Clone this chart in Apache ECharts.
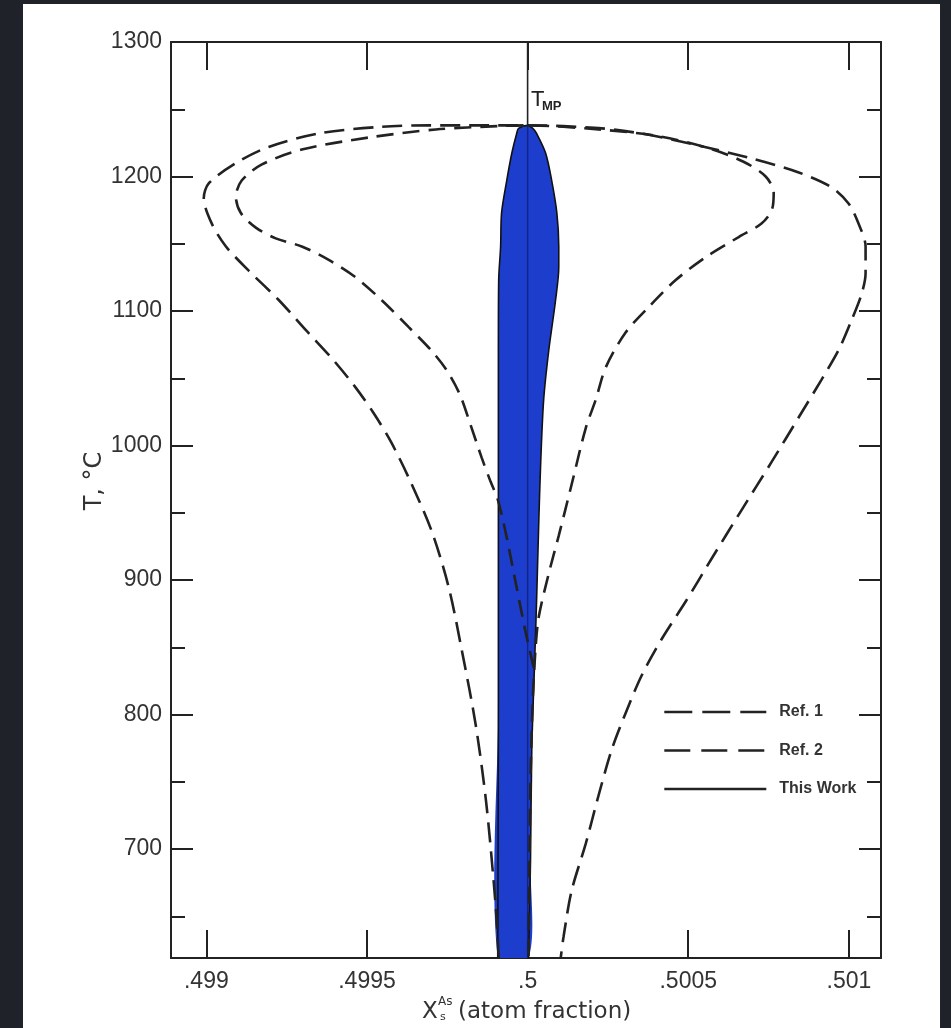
<!DOCTYPE html>
<html><head><meta charset="utf-8">
<script src="https://cdn.jsdelivr.net/npm/echarts@6/dist/echarts.min.js"></script>
<style>
html,body{margin:0;padding:0;background:#1f2329;width:951px;height:1028px;overflow:hidden;}
#paper{position:absolute;left:23px;top:4px;width:917px;height:1024px;background:#fff;}
#chart{position:absolute;left:0;top:0;width:951px;height:1028px;}
</style></head><body>
<div id="paper"></div><div id="chart"></div>
<script>
// ---------- data ----------
const X_MIN = 0.49889, X_MAX = 0.50110;
const T_MIN = 619, T_MAX = 1300;
const T_MP = 1238;
const xTicks = [0.499, 0.4995, 0.5, 0.5005, 0.501];
const yMajor = [700, 800, 900, 1000, 1100, 1200, 1300];
const yMinor = [650, 750, 850, 950, 1050, 1150, 1250];

// Ref. 1 (outer dashed curve): left branch bottom -> T_MP -> right branch bottom
const ref1X = [0.499910, 0.499904, 0.499894, 0.499870, 0.499838, 0.499795, 0.499755, 0.499702, 0.499630, 0.499574,
  0.499521, 0.499462, 0.499390, 0.499313, 0.499226, 0.499132, 0.499061, 0.499017, 0.498992, 0.499008, 0.499092,
  0.499194, 0.499350, 0.499546, 0.499692, 0.499817, 0.500000, 0.500221, 0.500377, 0.500532, 0.500688,
  0.500844, 0.500946, 0.500999, 0.501030, 0.501052, 0.501052, 0.501040, 0.501008, 0.500968, 0.500915,
  0.500844, 0.500760, 0.500666, 0.500573, 0.500492, 0.500417, 0.500355, 0.500305, 0.500262, 0.500221,
  0.500181, 0.500137, 0.500112, 0.500103];
const ref1T = [619, 646, 677, 737, 793, 848, 894, 936, 976, 1003,
  1024, 1044, 1065, 1085, 1108, 1130, 1148, 1165, 1184, 1195, 1210,
  1222, 1232, 1237, 1238, 1238, 1238, 1236, 1231, 1223, 1214,
  1203, 1192, 1180, 1165, 1148, 1128, 1113, 1093, 1071, 1049,
  1021, 988, 952, 916, 884, 856, 829, 801, 774, 740,
  704, 669, 635, 619];

// Ref. 2 (inner dashed curve)
const ref2X = [0.500019, 0.499994, 0.499963, 0.499932, 0.499907, 0.499885, 0.499857, 0.499823, 0.499789, 0.499748,
  0.499699, 0.499630, 0.499546, 0.499465, 0.499381, 0.499297, 0.499216, 0.499154, 0.499107, 0.499092,
  0.499110, 0.499173, 0.499297, 0.499506, 0.499714, 0.499910, 0.500000, 0.500221, 0.500408, 0.500564,
  0.500672, 0.500741, 0.500766, 0.500760, 0.500728, 0.500657, 0.500554, 0.500461, 0.500377, 0.500305,
  0.500243, 0.500212, 0.500181, 0.500137, 0.500097, 0.500066, 0.500035, 0.500025, 0.500016, 0.500009,
  0.500006, 0.500003];
const ref2T = [835, 861, 898, 935, 960, 973, 991, 1015, 1038, 1056,
  1071, 1088, 1108, 1125, 1138, 1148, 1154, 1162, 1173, 1185,
  1197, 1209, 1220, 1229, 1235, 1237.5, 1238, 1235, 1230, 1221,
  1211, 1200, 1188, 1175, 1165, 1155, 1140, 1123, 1103, 1084,
  1058, 1034, 1013, 971, 933, 905, 873, 850, 811, 751,
  692, 619];

// This Work (blue band): left edge top -> bottom, right edge top -> bottom
const workLeftX = [0.500000, 0.499972, 0.499966, 0.499951, 0.499935, 0.499919, 0.499916, 0.499910, 0.499909, 0.499909, 0.499909, 0.499907];
const workLeftT = [1238, 1235.8, 1232, 1217.5, 1197, 1173, 1148, 1123, 1071, 960, 811, 619];
const workRightX = [0.500016, 0.500028, 0.500056, 0.500075, 0.500091, 0.500097, 0.500097, 0.500087, 0.500066, 0.500050,
  0.500041, 0.500035, 0.500028, 0.500022, 0.500013, 0.500009, 0.500003];
const workRightT = [1235.8, 1232, 1217.5, 1197, 1173, 1148, 1133, 1108, 1071, 1034,
  989, 945, 885, 840, 774, 691, 619];

// ---------- build ----------
const zip = (xs, ts) => xs.map((x, i) => [x, ts[i]]);
const ref1 = zip(ref1X, ref1T);
const ref2 = zip(ref2X, ref2T);
const leftEdge = zip(workLeftX, workLeftT);
const rightEdge = zip(workRightX, workRightT);
const outline = leftEdge.slice().reverse().concat(rightEdge);

const INK = '#222';
const LABEL_FONT = "'Liberation Sans', Arial, sans-serif";
const fmtX = v => String(+(+v).toFixed(4)).replace(/^0\./, '.');
const fmtY = v => String(Math.round(v));

function xAxisCfg(pos, labels) {
  return {
    type: 'value', position: pos, min: X_MIN, max: X_MAX,
    axisLine: { show: true, onZero: false, lineStyle: { color: INK, width: 2 } },
    axisTick: { show: true, inside: true, length: 28, customValues: xTicks, lineStyle: { color: INK, width: 2 } },
    axisLabel: { show: labels, customValues: xTicks, formatter: fmtX, fontSize: 23, color: '#333',
      fontFamily: LABEL_FONT, margin: 12 },
    splitLine: { show: false }
  };
}
function yAxisCfg(pos, ticks, len, labels, line) {
  return {
    type: 'value', position: pos, min: T_MIN, max: T_MAX,
    axisLine: { show: line, onZero: false, lineStyle: { color: INK, width: 2 } },
    axisTick: { show: true, inside: true, length: len, customValues: ticks, lineStyle: { color: INK, width: 2 } },
    axisLabel: { show: labels, customValues: ticks, formatter: fmtY, fontSize: 23, color: '#333',
      fontFamily: LABEL_FONT, margin: 9 },
    splitLine: { show: false }
  };
}

const chart = echarts.init(document.getElementById('chart'), null, { renderer: 'canvas' });
chart.setOption({
  backgroundColor: 'transparent',
  animation: false,
  color: [INK, INK, INK, INK, INK, INK],
  grid: { left: 171, right: 70, top: 42, bottom: 70, containLabel: false },
  xAxis: [xAxisCfg('bottom', true), xAxisCfg('top', false)],
  yAxis: [
    yAxisCfg('left', yMajor, 22, true, true),
    yAxisCfg('left', yMinor, 14, false, false),
    yAxisCfg('right', yMajor, 22, false, true),
    yAxisCfg('right', yMinor, 14, false, false)
  ],
  legend: {
    orient: 'vertical', left: 663, top: 704, padding: 0,
    itemWidth: 102, itemHeight: 18, itemGap: 22.5, selectedMode: false,
    itemStyle: { opacity: 0 },
    textStyle: { fontFamily: LABEL_FONT, fontWeight: 'bold', fontSize: 16, color: '#333', padding: [0, 0, 0, 8] },
    data: [
      { name: 'Ref. 1', itemStyle: { opacity: 0 }, lineStyle: { type: [28, 10], width: 2.6, color: INK, opacity: 1 } },
      { name: 'Ref. 2', itemStyle: { opacity: 0 }, lineStyle: { type: [26, 11], width: 2.6, color: INK, opacity: 1 } },
      { name: 'This Work', itemStyle: { opacity: 0 }, lineStyle: { type: 'solid', width: 2.6, color: INK, opacity: 1 } }
    ]
  },
  series: [
    {
      name: 'This Work', type: 'line', data: outline, smooth: 0.3, symbol: 'none', showSymbol: false,
      itemStyle: { color: INK }, lineStyle: { color: '#111', width: 1.6 }, z: 4, silent: true
    },
    {
      name: 'This Work', type: 'custom', data: outline, z: 2, silent: true, clip: true,
      renderItem: function (params, api) {
        if (params.dataIndex !== 0) return null;
        const pts = outline.map(p => api.coord(p));
        return { type: 'polygon', shape: { points: pts, smooth: 0.3 }, style: { fill: '#1d3dcc', stroke: null } };
      }
    },
    {
      name: 'mp', type: 'line', data: [[0.5, T_MAX], [0.5, T_MP]], symbol: 'none',
      lineStyle: { color: INK, width: 1.6 }, z: 5, silent: true
    },
    {
      name: 'core', type: 'line', data: [[0.5, T_MP], [0.5, T_MIN]], symbol: 'none',
      lineStyle: { color: 'rgba(10,20,90,0.6)', width: 1.4 }, z: 3, silent: true
    },
    {
      name: 'Ref. 1', type: 'line', data: ref1, smooth: 0.3, symbol: 'none', showSymbol: false,
      itemStyle: { color: INK }, lineStyle: { color: INK, width: 2.6, type: [20, 9] }, z: 6, silent: true
    },
    {
      name: 'Ref. 2', type: 'line', data: ref2, smooth: 0.3, symbol: 'none', showSymbol: false,
      itemStyle: { color: INK }, lineStyle: { color: INK, width: 2.6, type: [17, 9] }, z: 6, silent: true
    }
  ],
  graphic: [
    { type: 'text', x: 531, y: 100, style: { text: 'T', font: "22px 'Liberation Sans'", fill: '#222', textVerticalAlign: 'middle' } },
    { type: 'text', x: 542, y: 106, style: { text: 'MP', font: "bold 13px 'Liberation Sans'", fill: '#222', textVerticalAlign: 'middle' } },
    { type: 'text', x: 95, y: 481, rotation: Math.PI / 2,
      style: { text: 'T, °C', font: "24px 'DejaVu Sans'", fill: '#333', textAlign: 'center', textVerticalAlign: 'middle' } },
    { type: 'text', x: 422, y: 1012, style: { text: 'X', font: "23px 'DejaVu Sans'", fill: '#333', textVerticalAlign: 'middle' } },
    { type: 'text', x: 438, y: 1002, style: { text: 'As', font: "12px 'DejaVu Sans'", fill: '#333', textVerticalAlign: 'middle' } },
    { type: 'text', x: 440, y: 1017, style: { text: 's', font: "11px 'DejaVu Sans'", fill: '#333', textVerticalAlign: 'middle' } },
    { type: 'text', x: 458, y: 1012, style: { text: '(atom fraction)', font: "23px 'DejaVu Sans'", fill: '#333', textVerticalAlign: 'middle' } }
  ]
});
</script></body></html>
